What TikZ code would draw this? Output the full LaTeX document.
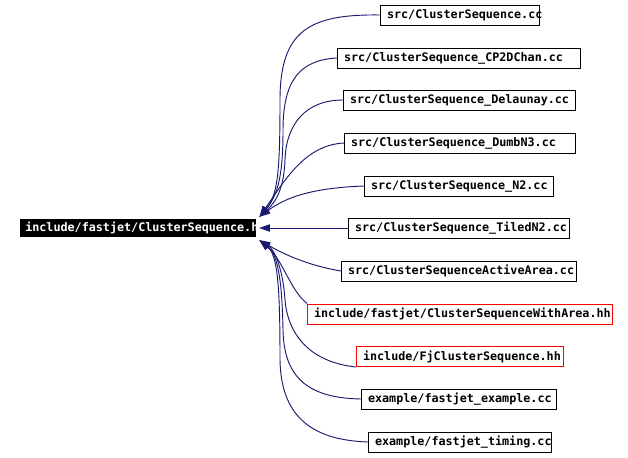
\documentclass[tikz,border=0pt]{standalone}
\usepackage{fontspec}
\usepackage{xcolor}
\usepackage{tikz}
\usetikzlibrary{arrows.meta}
\newfontfamily\doxfont[HyphenChar=None]{DejaVu Sans Mono Bold}
\definecolor{edgeblue}{HTML}{191970}

\begin{document}
\begin{tikzpicture}[
      x=0.75pt, y=-0.75pt,
      every node/.style={font=\doxfont\fontsize{8.8pt}{10pt}\selectfont},
      file/.style={draw, anchor=west, align=left, inner xsep=4.9pt, inner ysep=0pt, minimum height=15pt, line width=0.75pt},
      redfile/.style={file, draw=red},
      arrow/.style={-{Triangle[length=8pt, width=5.5pt]}, draw=edgeblue, line width=0.7pt}
    ]
    \useasboundingbox (0,0) rectangle (628,457);
    \node[fill=black, text=white, anchor=west, align=left, inner xsep=3.75pt, inner ysep=0pt,
          minimum height=13.5pt, text width=169.5pt] (root) at (20,228) {include/fastjet/ClusterSequence.h};

    \node[file, text width=109.5pt] (cs) at (380,15) {src/ClusterSequence.cc};
    \node[file, text width=172.5pt] (cp) at (337,58) {src/ClusterSequence\_CP2DChan.cc};
    \node[file, text width=164.25pt] (dl) at (343,100) {src/ClusterSequence\_Delaunay.cc};
    \node[file, text width=163.5pt] (dn) at (344,143) {src/ClusterSequence\_DumbN3.cc};
    \node[file, text width=132pt] (n2) at (364,186) {src/ClusterSequence\_N2.cc};
    \node[file, text width=156pt] (tn) at (348,228) {src/ClusterSequence\_TiledN2.cc};
    \node[file, text width=166.5pt] (aa) at (341,271) {src/ClusterSequenceActiveArea.cc};
    \node[redfile, text width=219pt] (wa) at (307,314) {include/fastjet/ClusterSequenceWithArea.hh};
    \node[redfile, text width=145.5pt] (fj) at (356,356.5) {include/FjClusterSequence.hh};
    \node[file, text width=136.5pt] (ex) at (361,399) {example/fastjet\_example.cc};
    \node[file, text width=127.5pt] (tm) at (368,442) {example/fastjet\_timing.cc};

    % upper group
    \draw[arrow] (cs.west) .. controls (310,14) and (280,30) .. (280,100)
                 .. controls (280,170) and (278,195) .. ([shift={(3,-2)}]root.north east);
    \draw[arrow] (cp.west) .. controls (300,60) and (283,80) .. (283,130)
                 .. controls (283,175) and (278,195) .. ([shift={(3,-2)}]root.north east);
    \draw[arrow] (dl.west) .. controls (305,100) and (286,125) .. (285,160)
                 .. controls (284,185) and (278,200) .. ([shift={(3,-2)}]root.north east);
    \draw[arrow] (dn.west) .. controls (305,145) and (285,180) .. ([shift={(3,-2)}]root.north east);
    \draw[arrow] (n2.west) .. controls (310,188) and (285,198) .. ([shift={(3,-2)}]root.north east);
    % straight
    \draw[arrow] (tn.west) -- ([xshift=2pt]root.east);
    % lower group
    \draw[arrow] (aa.west) .. controls (305,265) and (280,252) .. ([shift={(3,3)}]root.south east);
    \draw[arrow] (wa.north west) .. controls (290,290) and (283,260) .. ([shift={(3,3)}]root.south east);
    \draw[arrow] (fj.south west) .. controls (310,362) and (288,335) .. (285,300)
                 .. controls (283,270) and (275,250) .. ([shift={(3,3)}]root.south east);
    \draw[arrow] (ex.west) .. controls (305,398) and (284,375) .. (283,330)
                 .. controls (282,280) and (278,255) .. ([shift={(3,3)}]root.south east);
    \draw[arrow] (tm.west) .. controls (310,440) and (281,415) .. (280,360)
                 .. controls (280,290) and (278,255) .. ([shift={(3,3)}]root.south east);
  \end{tikzpicture}
\end{document}
